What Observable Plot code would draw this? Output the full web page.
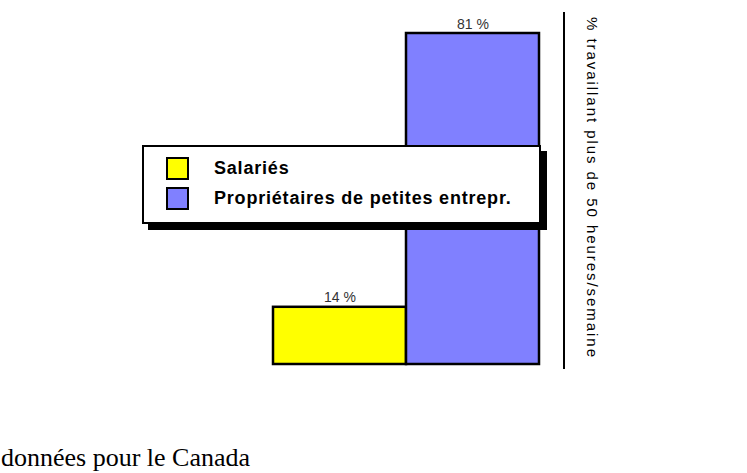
<!DOCTYPE html>
<html><head><meta charset="utf-8">
<script src="https://cdn.jsdelivr.net/npm/d3@7"></script>
<script src="https://cdn.jsdelivr.net/npm/@observablehq/plot@0.6"></script>
<style>
body{margin:0;background:#fff;}
#wrap{position:relative;width:747px;height:473px;overflow:hidden;font-family:"Liberation Sans",Arial,sans-serif;}
#legend{position:absolute;left:142px;top:145px;width:395px;height:75px;border:2px solid #000;background:#fff;box-shadow:6px 6px 0 #000;}
.item{position:absolute;left:22px;height:23px;display:flex;align-items:center;font-weight:bold;font-size:18px;letter-spacing:0.8px;color:#000;}
.sw{width:19px;height:19px;border:2px solid #000;margin-right:25px;}
#note{position:absolute;left:1px;top:445px;line-height:1;font-family:"Liberation Serif","Times New Roman",serif;font-size:26px;color:#000;white-space:nowrap;}
#vline{position:absolute;left:563px;top:12px;width:2px;height:357px;background:#000;}
</style></head>
<body><div id="wrap"></div>
<script>
const categories = ["Salariés", "Propriétaires de petites entrepr."];
const values = [14, 81];
const colors = ["#ffff00", "#8080ff"];
const labels = ["14 %", "81 %"];
const yTitle = "% travaillant plus de 50 heures/semaine";
const note = "données pour le Canada";

const data = categories.map((c, i) => ({cat: c, v: values[i], lab: labels[i], col: colors[i]}));

const plot = Plot.plot({
  width: 747, height: 473,
  margin: 0,
  x: {type: "band", domain: categories, range: [273, 539], padding: 0, axis: null},
  y: {domain: [0, 81], range: [364, 33], axis: null},
  marks: [
    Plot.barY(data, {x: "cat", y: "v", fill: "col", stroke: "#000", strokeWidth: 2.5}),
    Plot.text(data, {x: "cat", y: "v", text: "lab", lineAnchor: "bottom", dy: -5, fill: "#333", fontSize: 14, fontFamily: "Liberation Sans, Arial, sans-serif", style: {letterSpacing: "1.2px"}})
  ]
});
const wrap = document.getElementById("wrap");
wrap.appendChild(plot);

// rotated axis title
d3.select(plot).append("text")
  .attr("transform", "translate(587,17) rotate(90)")
  .attr("text-anchor", "start")
  .attr("font-family", "Liberation Sans, Arial, sans-serif")
  .attr("font-size", 15)
  .attr("textLength", 340)
  .attr("lengthAdjust", "spacing")
  .attr("fill", "#000")
  .text(yTitle);

const vline = document.createElement("div"); vline.id = "vline"; wrap.appendChild(vline);

const leg = document.createElement("div"); leg.id = "legend";
categories.forEach((c, i) => {
  const it = document.createElement("div"); it.className = "item";
  it.style.top = (10 + i * 30) + "px";
  const sw = document.createElement("div"); sw.className = "sw"; sw.style.background = colors[i];
  it.appendChild(sw); it.appendChild(document.createTextNode(c));
  leg.appendChild(it);
});
wrap.appendChild(leg);

const n = document.createElement("div"); n.id = "note"; n.textContent = note; wrap.appendChild(n);
</script></body></html>
